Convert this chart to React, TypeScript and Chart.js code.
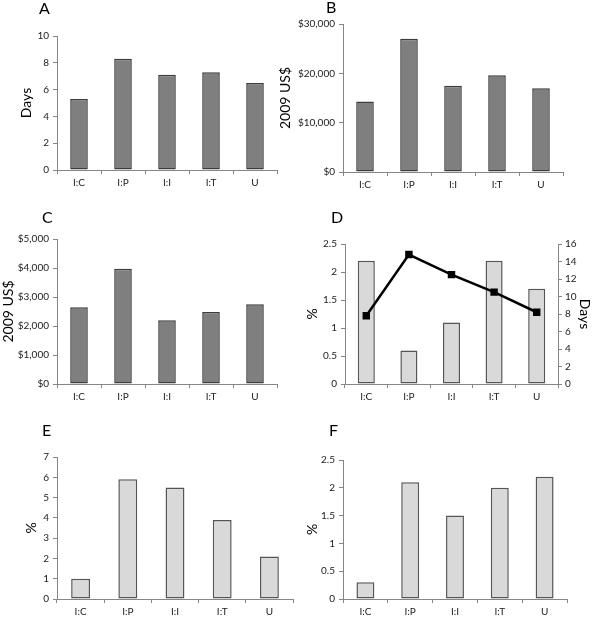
import React, { useEffect, useRef } from "react";
import { Chart, registerables } from "chart.js";
Chart.register(...registerables);

// ---------- data ----------
const categories = ["I:C", "I:P", "I:I", "I:T", "U"];
const panelADays = [5.3, 8.3, 7.1, 7.3, 6.5];
const panelBCost = [14300, 27000, 17500, 19600, 17000];
const panelCCost = [2650, 3970, 2200, 2480, 2750];
const panelDPercent = [2.2, 0.6, 1.1, 2.2, 1.7];
const panelDDays = [7.8, 14.8, 12.5, 10.5, 8.2];
const panelEPercent = [1.0, 5.9, 5.5, 3.9, 2.1];
const panelFPercent = [0.3, 2.1, 1.5, 2.0, 2.2];

// ---------- styles ----------
const FONT = "Lato, 'Open Sans', sans-serif";
const AXIS = "#868686";
const DARK_FILL = "#7f7f7f";
const DARK_BORDER = "#3c3c3c";
const LIGHT_FILL = "#d9d9d9";
const LIGHT_BORDER = "#555555";

const dollar = (v: any) => "$" + Number(v).toLocaleString("en-US");
const plain = (v: any) => String(Number(v));

type Panel = {
  letter: string; lx: number; ly: number;
  x: number; y: number; w: number; h: number;
  L: number; T: number; R: number; B: number;
  bars: number[]; fill: string; border: string;
  yMax: number; yStep: number; yFmt: (v: any) => string;
  yTitle: string; yTitlePad: number;
  line?: number[]; y2Max?: number; y2Step?: number; y2Title?: string; y2TitlePad?: number;
};

const panels: Panel[] = [
  { letter: "A", lx: 39, ly: 0, x: 0, y: 0, w: 300, h: 200, L: 57, T: 36, R: 277, B: 170,
    bars: panelADays, fill: DARK_FILL, border: DARK_BORDER, yMax: 10, yStep: 2, yFmt: plain,
    yTitle: "Days", yTitlePad: 17.6 },
  { letter: "B", lx: 326, ly: -1, x: 270, y: 0, w: 330, h: 200, L: 73, T: 24, R: 293, B: 172,
    bars: panelBCost, fill: DARK_FILL, border: DARK_BORDER, yMax: 30000, yStep: 10000, yFmt: dollar,
    yTitle: "2009 US$", yTitlePad: 6.6 },
  { letter: "C", lx: 42, ly: 209, x: 0, y: 200, w: 300, h: 210, L: 57, T: 39, R: 277, B: 184,
    bars: panelCCost, fill: DARK_FILL, border: DARK_BORDER, yMax: 5000, yStep: 1000, yFmt: dollar,
    yTitle: "2009 US$", yTitlePad: 0 },
  { letter: "D", lx: 331, ly: 209, x: 300, y: 200, w: 300, h: 210, L: 45, T: 44, R: 258, B: 184,
    bars: panelDPercent, fill: LIGHT_FILL, border: LIGHT_BORDER, yMax: 2.5, yStep: 0.5, yFmt: plain,
    yTitle: "%", yTitlePad: 3.6,
    line: panelDDays, y2Max: 16, y2Step: 2, y2Title: "Days", y2TitlePad: 6.6 },
  { letter: "E", lx: 42, ly: 422, x: 0, y: 410, w: 300, h: 207, L: 57, T: 47, R: 293, B: 189,
    bars: panelEPercent, fill: LIGHT_FILL, border: LIGHT_BORDER, yMax: 7, yStep: 1, yFmt: plain,
    yTitle: "%", yTitlePad: 22.6 },
  { letter: "F", lx: 329, ly: 422, x: 300, y: 410, w: 300, h: 207, L: 43, T: 50, R: 267, B: 189,
    bars: panelFPercent, fill: LIGHT_FILL, border: LIGHT_BORDER, yMax: 2.5, yStep: 0.5, yFmt: plain,
    yTitle: "%", yTitlePad: 3.6 },
];

const gridOpts = {
  display: true, drawOnChartArea: false, drawTicks: true, tickLength: 4, color: AXIS, lineWidth: 1,
};
const borderOpts = { display: true, color: AXIS, width: 1 };
const tickFont = { family: FONT, size: 10 };
const titleFont = { family: FONT, size: 14 };

function makeConfig(p: Panel): any {
  const datasets: any[] = [
    {
      type: "bar", data: p.bars, backgroundColor: p.fill, borderColor: p.border, borderWidth: 1.5,
      borderSkipped: false,
      barPercentage: 0.4, categoryPercentage: 1, yAxisID: "y", order: 2,
    },
  ];
  if (p.line) {
    datasets.push({
      type: "line", data: p.line, borderColor: "#000", borderWidth: 2.5, tension: 0,
      pointStyle: "rect", pointRadius: 3.5, pointBackgroundColor: "#000", pointBorderColor: "#000",
      yAxisID: "y2", order: 1,
    });
  }
  const scales: any = {
    x: {
      type: "category", offset: true,
      grid: { ...gridOpts, offset: true }, border: borderOpts,
      ticks: { font: tickFont, color: "#222", padding: 3, maxRotation: 0, autoSkip: false },
      afterFit: (s: any) => { s.height = p.h - p.B; },
    },
    y: {
      position: "left", min: 0, max: p.yMax,
      grid: gridOpts, border: borderOpts,
      ticks: { stepSize: p.yStep, font: tickFont, color: "#222", padding: 4, callback: p.yFmt },
      title: { display: true, text: p.yTitle, font: titleFont, color: "#000",
        padding: { top: p.yTitlePad, bottom: 0 } },
      afterFit: (s: any) => { s.width = p.L; },
    },
  };
  if (p.line) {
    scales.y2 = {
      position: "right", min: 0, max: p.y2Max,
      grid: gridOpts, border: borderOpts,
      ticks: { stepSize: p.y2Step, font: tickFont, color: "#222", padding: 3, callback: plain },
      title: { display: true, text: p.y2Title, font: titleFont, color: "#000",
        padding: { top: p.y2TitlePad, bottom: 0 } },
      afterFit: (s: any) => { s.width = p.w - p.R; },
    };
  }
  return {
    type: "bar",
    data: { labels: categories, datasets },
    options: {
      animation: false, responsive: false, devicePixelRatio: 1,
      layout: { padding: { left: 0, top: p.T, right: p.line ? 0 : p.w - p.R, bottom: 0 } },
      plugins: { legend: { display: false }, tooltip: { enabled: false }, title: { display: false } },
      scales,
    },
  };
}

function PanelChart({ p }: { p: Panel }) {
  const ref = useRef<HTMLCanvasElement | null>(null);
  useEffect(() => {
    if (!ref.current) return;
    const chart = new Chart(ref.current, makeConfig(p));
    return () => chart.destroy();
  }, [p]);
  return (
    <canvas ref={ref} width={p.w} height={p.h}
      style={{ position: "absolute", left: p.x, top: p.y, width: p.w, height: p.h }} />
  );
}

export default function App() {
  return (
    <div style={{ position: "absolute", left: 0, top: 0, width: 600, height: 617, background: "#fff", overflow: "hidden" }}>
      {panels.map((p) => (
        <PanelChart key={p.letter} p={p} />
      ))}
      {panels.map((p) => (
        <div key={"l" + p.letter}
          style={{ position: "absolute", left: p.lx, top: p.ly, fontFamily: FONT, fontSize: 16, lineHeight: "16px", color: "#000" }}>
          {p.letter}
        </div>
      ))}
    </div>
  );
}
